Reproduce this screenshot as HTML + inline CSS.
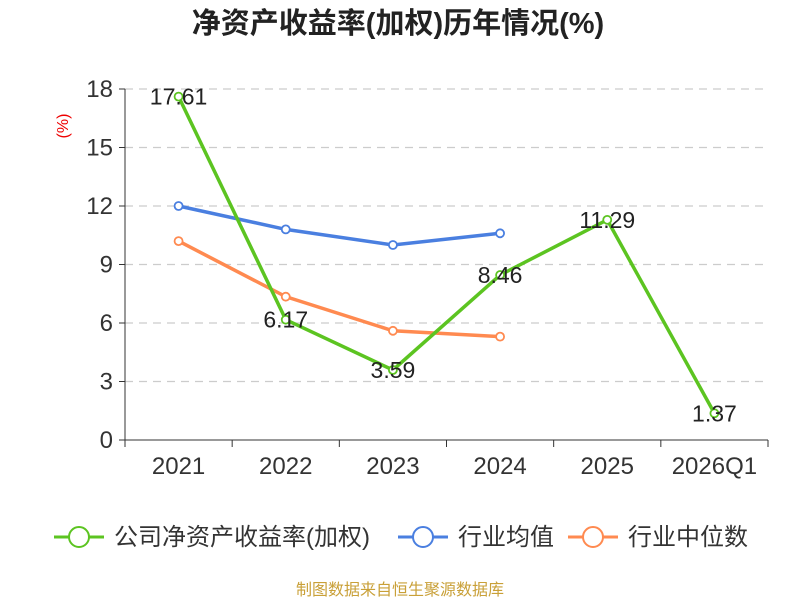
<!DOCTYPE html>
<html><head><meta charset="utf-8"><style>
body{margin:0;background:#fff;font-family:"Liberation Sans","Noto Sans CJK SC",sans-serif}
</style></head><body>
<svg id="c" width="800" height="600" xmlns="http://www.w3.org/2000/svg" font-family="Liberation Sans, Noto Sans CJK SC, sans-serif"></svg>
<script>
const categories=["2021","2022","2023","2024","2025","2026Q1"];
const companyRoe=[17.61,6.17,3.59,8.46,11.29,1.37];
const industryAvg=[12.0,10.8,10.0,10.6,null,null];
const industryMedian=[10.2,7.35,5.6,5.3,null,null];
const yTicks=[0,3,6,9,12,15,18];
const svg=document.getElementById('c');
const NS='http://www.w3.org/2000/svg';
const L=125,R=768,T=89,B=440,yMax=18;
const bw=(R-L)/categories.length;
const x=i=>L+bw*(i+0.5);
const y=v=>B-(v/yMax)*(B-T);
function mk(t,a,p){const e=document.createElementNS(NS,t);for(const k in a)e.setAttribute(k,a[k]);(p||svg).appendChild(e);return e;}
let e;
e=mk('text',{x:398,y:33,'text-anchor':'middle','font-size':29,'font-weight':'bold',fill:'#222'});e.textContent='净资产收益率(加权)历年情况(%)';


e=mk('text',{x:0,y:0,transform:'translate(68,126) rotate(-90)','text-anchor':'middle','font-size':16,fill:'#e00'});e.textContent='(%)';


yTicks.forEach(t=>{
 if(t>0){e=mk('line',{x1:L,x2:R,y1:y(t),y2:y(t),stroke:'#ccc','stroke-dasharray':'8,6','stroke-width':1.3});
 
 }
 e=mk('line',{x1:L-6,x2:L,y1:y(t),y2:y(t),stroke:'#333'});
 e=mk('text',{x:L-12,y:y(t)+8,'text-anchor':'end','font-size':24,fill:'#333'});e.textContent=t;
 
 
});
mk('line',{x1:L,x2:L,y1:T,y2:B,stroke:'#333'});
e=mk('line',{x1:L,x2:R,y1:B,y2:B,stroke:'#333'});


for(let i=0;i<=categories.length;i++)mk('line',{x1:L+bw*i,x2:L+bw*i,y1:B,y2:B+7,stroke:'#333'});
categories.forEach((c,i)=>{e=mk('text',{x:x(i),y:474,'text-anchor':'middle','font-size':24,fill:'#333'});e.textContent=c;
 
 });
function series(vals,color,name){
 const pts=vals.map((v,i)=>v==null?null:[x(i),y(v)]).filter(p=>p);
 e=mk('polyline',{points:pts.map(p=>p.join(',')).join(' '),fill:'none',stroke:color,'stroke-width':3.5});
 
 
 pts.forEach(p=>{e=mk('circle',{cx:p[0],cy:p[1],r:4,fill:'#fff',stroke:color,'stroke-width':1.8});
 
 });
}
series(industryAvg,'#4a7fe0','industry-average');
series(industryMedian,'#ff8a50','industry-median');
series(companyRoe,'#5cc421','company-roe');
companyRoe.forEach((v,i)=>{e=mk('text',{x:x(i),y:y(v)+8,'text-anchor':'middle','font-size':23,fill:'#222'});e.textContent=v.toFixed(2);
 
 });
const leg=[['公司净资产收益率(加权)','#5cc421',54],['行业均值','#4a7fe0',398],['行业中位数','#ff8a50',568]];
leg.forEach(([t,c,lx])=>{
 const g=mk('g',{});
 
 
 mk('line',{x1:lx,x2:lx+50,y1:537,y2:537,stroke:c,'stroke-width':3},g);
 mk('circle',{cx:lx+25,cy:537,r:10,fill:'#fff',stroke:c,'stroke-width':2},g);
 const tx=mk('text',{x:lx+60,y:545,'font-size':24,fill:'#333'},g);tx.textContent=t;
});
e=mk('text',{x:400,y:595,'text-anchor':'middle','font-size':16,fill:'#c9a038'});e.textContent='制图数据来自恒生聚源数据库';


</script>
</body></html>
